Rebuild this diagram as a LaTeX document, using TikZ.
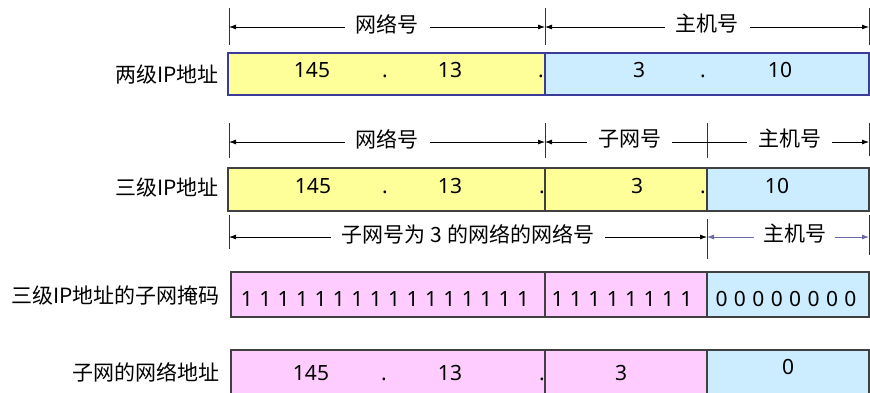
\documentclass[tikz,border=0pt]{standalone}
\usepackage{fontspec}
\setmainfont{Noto Sans CJK SC}
\newfontfamily\digitfont{Noto Sans}
\usetikzlibrary{arrows.meta}
\definecolor{netyellow}{HTML}{FFFF99}
\definecolor{hostblue}{HTML}{CCECFF}
\definecolor{maskpink}{HTML}{FFCCFF}
\definecolor{edgeblue}{HTML}{3B3B9A}
\definecolor{edgegray}{HTML}{404040}
\definecolor{hostarrow}{HTML}{6A6AA8}
\newcommand{\bitsfont}{\digitfont\fontsize{21}{25}\selectfont\spaceskip 6.4pt\relax}

\begin{document}
\begin{tikzpicture}[x=1pt, y=-1pt, every node/.style={font=\fontsize{21}{25}\selectfont, inner sep=0pt},
    dim/.style={{Latex[length=7pt,width=5pt]}-{Latex[length=7pt,width=5pt]}, line width=0.8pt},
    tickline/.style={line width=1pt, black!80},
    seg/.style={line width=1.2pt, draw=edgegray},
    gap/.style={fill=white, inner xsep=11pt, inner ysep=1pt, yshift=3pt},
    num/.style={anchor=base, font=\digitfont\fontsize{21}{25}\selectfont},
    maskbits/.style={anchor=base, font=\bitsfont},
    rowlabel/.style={anchor=east}]
    \path[use as bounding box] (0,0) rectangle (870,392);

    % two-level address
    \draw[tickline] (229,8) -- (229,45); \draw[tickline] (545,8) -- (545,45); \draw[tickline] (869,8) -- (869,45);
    \coordinate (L1) at (229,27); \coordinate (M1) at (545,27); \coordinate (R1) at (869,27);
    \draw[dim] (L1) -- (M1) node[midway, gap] (net1) {网络号};
    \draw[dim] (M1) -- (R1) node[midway, gap] (host1) {主机号};
    \filldraw[seg, draw=edgeblue, fill=netyellow] (228,53) rectangle (545,95);
    \filldraw[seg, draw=edgeblue, fill=hostblue] (545,53) rectangle (869,95);
    \node[rowlabel] (lab1) at (219,75) {两级IP地址};
    \node[num] (a1) at (312,77) {145};
    \node[num] (a2) at (385,77) {.};
    \node[num] (a3) at (450,77) {13};
    \node[num] (a4) at (541,77) {.};
    \node[num] (a5) at (639,77) {3};
    \node[num] (a6) at (703,77) {.};
    \node[num] (a7) at (780,77) {10};

    % three-level address
    \draw[tickline] (229,123) -- (229,158); \draw[tickline] (545,123) -- (545,158);
    \draw[tickline] (707,123) -- (707,158); \draw[tickline] (869,123) -- (869,156);
    \coordinate (L2) at (229,142); \coordinate (M2) at (545,142); \coordinate (R2) at (869,142);
    \draw[dim] (L2) -- (M2) node[midway, gap] (net2) {网络号};
    \draw[dim] (M2) -- (R2) node[pos=0.262, gap] (sub2) {子网号} node[pos=0.756, gap] (host2) {主机号};
    \filldraw[seg, fill=netyellow] (228,168) rectangle (545,211);
    \filldraw[seg, fill=netyellow] (545,168) rectangle (707,211);
    \filldraw[seg, fill=hostblue] (707,168) rectangle (869,211);
    \node[rowlabel] (lab2) at (219,188) {三级IP地址};
    \node[num] (b1) at (313,193) {145};
    \node[num] (b2) at (385,193) {.};
    \node[num] (b3) at (450,193) {13};
    \node[num] (b4) at (542,193) {.};
    \node[num] (b5) at (637,193) {3};
    \node[num] (b6) at (703,193) {.};
    \node[num] (b7) at (777,193) {10};

    % network number of subnet 3
    \draw[tickline] (229,215) -- (229,249); \draw[tickline] (707,219) -- (707,259); \draw[tickline] (869,215) -- (869,255);
    \coordinate (L3) at (229,237); \coordinate (S3) at (707,237); \coordinate (R3) at (869,237);
    \draw[dim] (L3) -- (S3) node[midway, gap] (net3) {子网号为 3 的网络的网络号};
    \draw[dim, draw=hostarrow, fill=hostarrow] (S3) -- (R3) node[pos=0.543, gap, inner xsep=9pt, text=black] (host3) {主机号};

    % subnet mask
    \filldraw[seg, fill=maskpink] (231,272) rectangle (545,317);
    \filldraw[seg, fill=maskpink] (545,272) rectangle (707,317);
    \filldraw[seg, fill=hostblue] (707,272) rectangle (869,317);
    \node[rowlabel] (lab3) at (220,295) {三级IP地址的子网掩码};
    \node[maskbits] (m1) at (385,306) {1 1 1 1 1 1 1 1 1 1 1 1 1 1 1 1};
    \node[maskbits] (m2) at (622,306) {1 1 1 1 1 1 1 1};
    \node[maskbits] (m3) at (786,306) {0 0 0 0 0 0 0 0};

    % network address of the subnet
    \filldraw[seg, fill=maskpink] (231,350) rectangle (545,400);
    \filldraw[seg, fill=maskpink] (545,350) rectangle (707,400);
    \filldraw[seg, fill=hostblue] (707,350) rectangle (869,400);
    \node[rowlabel] (lab4) at (220,372) {子网的网络地址};
    \node[num] (c1) at (311,380) {145};
    \node[num] (c2) at (384,380) {.};
    \node[num] (c3) at (450,380) {13};
    \node[num] (c4) at (542,380) {.};
    \node[num] (c5) at (621,380) {3};
    \node[num] (c6) at (788,374) {0};
\end{tikzpicture}
\end{document}
